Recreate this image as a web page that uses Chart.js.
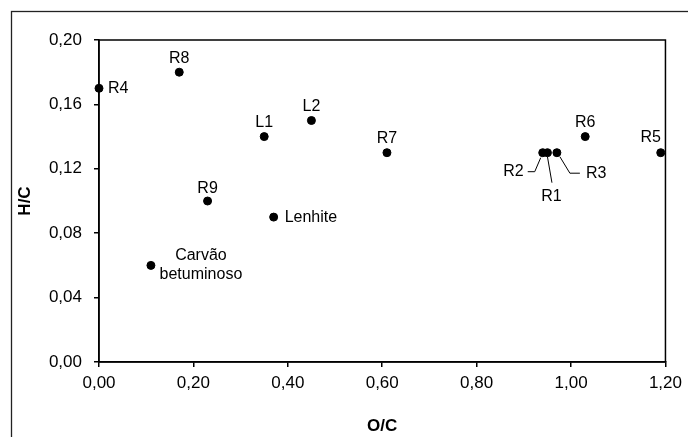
<!DOCTYPE html>
<html>
<head>
<meta charset="utf-8">
<script src="https://cdn.jsdelivr.net/npm/chart.js@4"></script>
<style>
  html, body { margin: 0; padding: 0; background: #fff; }
  #wrap { width: 688px; height: 437px; }
</style>
</head>
<body>
<div id="wrap"><canvas id="myChart" width="688" height="437"></canvas></div>
<script>
const names = ["R1", "R2", "R3", "R4", "R5", "R6", "R7", "R8", "R9", "L1", "L2", "Lenhite", "Carvão betuminoso"];
const ocValues = [0.95, 0.94, 0.97, 0.00, 1.19, 1.03, 0.61, 0.17, 0.23, 0.35, 0.45, 0.37, 0.11];
const hcValues = [0.13, 0.13, 0.13, 0.17, 0.13, 0.14, 0.13, 0.18, 0.10, 0.14, 0.15, 0.09, 0.06];

const xTickLabels = ["0,00", "0,20", "0,40", "0,60", "0,80", "1,00", "1,20"];
const yTickLabels = ["0,00", "0,04", "0,08", "0,12", "0,16", "0,20"];

// where each label sits relative to its dot (pixels)
const labelPlacement = {
  "R1": { align: "center", dx: 4, dy: 44, leader: [[0, 4], [4.5, 30]] },
  "R2": { align: "right", dx: -19, dy: 19, leader: [[-15, 19], [-8, 19], [-2, 5]] },
  "R3": { align: "left", dx: 29, dy: 21, leader: [[3, 4], [13, 20.5], [23, 20.5]] },
  "R4": { align: "left", dx: 9, dy: 0 },
  "R5": { align: "center", dx: -10, dy: -15 },
  "R6": { align: "center", dx: 0, dy: -14 },
  "R7": { align: "center", dx: 0, dy: -14 },
  "R8": { align: "center", dx: 0, dy: -14 },
  "R9": { align: "center", dx: 0, dy: -12 },
  "L1": { align: "center", dx: 0, dy: -14 },
  "L2": { align: "center", dx: 0, dy: -14 },
  "Lenhite": { align: "left", dx: 11, dy: 0 },
  "Carvão betuminoso": { align: "center", dx: 50, dy: 0, split: true }
};

const FONT = '"Liberation Sans", Arial, sans-serif';

const pointLabels = {
  id: "pointLabels",
  afterDatasetsDraw(chart) {
    const ctx = chart.ctx;
    const meta = chart.getDatasetMeta(0);
    ctx.save();
    ctx.fillStyle = "#000";
    ctx.strokeStyle = "#000";
    ctx.lineWidth = 1;
    ctx.font = "16px " + FONT;
    ctx.textBaseline = "middle";
    meta.data.forEach((pt, i) => {
      const s = labelPlacement[names[i]];
      if (s.leader) {
        ctx.beginPath();
        s.leader.forEach((p, j) => {
          if (j === 0) ctx.moveTo(pt.x + p[0], pt.y + p[1]);
          else ctx.lineTo(pt.x + p[0], pt.y + p[1]);
        });
        ctx.stroke();
      }
      ctx.textAlign = s.align;
      const lines = s.split ? names[i].split(" ") : [names[i]];
      const gap = 19;
      lines.forEach((t, k) => {
        const off = (k - (lines.length - 1) / 2) * gap;
        ctx.fillText(t, pt.x + s.dx, pt.y + s.dy + off);
      });
    });
    ctx.restore();
  }
};

const frames = {
  id: "frames",
  afterDraw(chart) {
    const ctx = chart.ctx;
    const a = chart.chartArea;
    ctx.save();
    ctx.strokeStyle = "#000";
    ctx.lineWidth = 1.5;
    ctx.strokeRect(a.left, a.top, a.right - a.left, a.bottom - a.top);
    ctx.lineWidth = 1.3;
    ctx.strokeStyle = "#222";
    ctx.strokeRect(11.5, 11.5, 720, 460);
    ctx.restore();
  }
};

const config = {
  type: "scatter",
  data: {
    datasets: [{
      label: "H/C vs O/C",
      data: ocValues.map((x, i) => ({ x: x, y: hcValues[i] })),
      backgroundColor: "#000",
      borderColor: "#000",
      pointRadius: 4,
      pointHoverRadius: 4,
      clip: false
    }]
  },
  options: {
    responsive: false,
    animation: false,
    layout: { padding: { left: 0, top: 40, right: 22, bottom: 0 } },
    plugins: {
      legend: { display: false },
      tooltip: { enabled: false }
    },
    scales: {
      x: {
        type: "linear",
        min: 0,
        max: 1.2,
        ticks: {
          stepSize: 0.2,
          color: "#000",
          font: { family: FONT, size: 17 },
          padding: 6,
          maxRotation: 0,
          callback: (v, i) => xTickLabels[i]
        },
        grid: { drawOnChartArea: false, drawTicks: true, tickLength: 5, color: "#000", lineWidth: 1.5 },
        border: { display: true, color: "#000", width: 1.5 },
        title: {
          display: true,
          text: "O/C",
          color: "#000",
          font: { family: FONT, size: 17, weight: "bold" },
          padding: { top: 0, bottom: 0 }
        },
        afterFit(scale) { scale.height = 75; }
      },
      y: {
        type: "linear",
        min: 0,
        max: 0.2,
        ticks: {
          stepSize: 0.04,
          color: "#000",
          font: { family: FONT, size: 17 },
          padding: 12,
          callback: (v, i) => yTickLabels[i]
        },
        grid: { drawOnChartArea: false, drawTicks: true, tickLength: 5, color: "#000", lineWidth: 1.5 },
        border: { display: true, color: "#000", width: 1.5 },
        title: {
          display: true,
          text: "H/C",
          color: "#000",
          font: { family: FONT, size: 17, weight: "bold" },
          padding: { top: 15, bottom: 0 }
        },
        afterFit(scale) { scale.width = 99; }
      }
    }
  },
  plugins: [pointLabels, frames]
};

const myChart = new Chart(document.getElementById("myChart"), config);
</script>
</body>
</html>
